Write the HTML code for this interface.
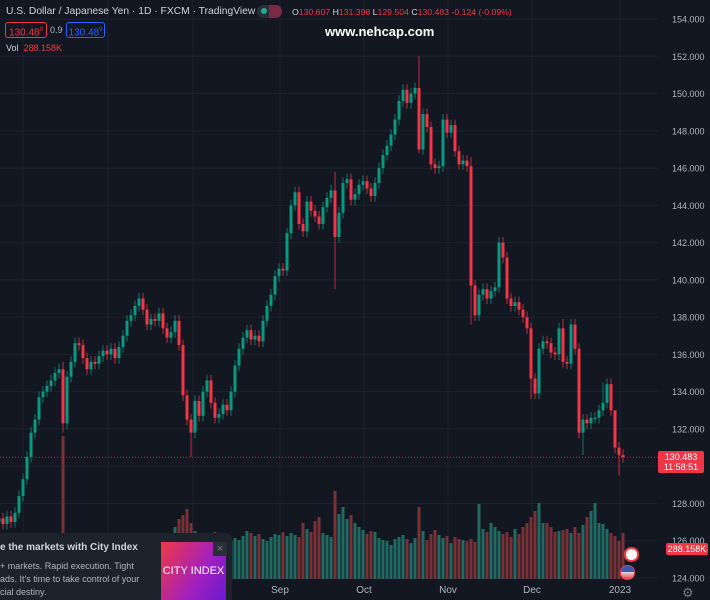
<!DOCTYPE html>
<html><head><meta charset="utf-8">
<style>
html,body{margin:0;padding:0;background:#131722;}
#wrap{position:relative;width:710px;height:600px;overflow:hidden;background:#131722;font-family:"Liberation Sans",sans-serif;}
svg{position:absolute;left:0;top:0;}
.t{position:absolute;white-space:nowrap;}
</style></head><body>
<div id="wrap">
<svg id="chart" width="710" height="600"></svg>

<div class="t" style="left:6px;top:6px;font-size:10.3px;color:#d1d4dc;">U.S. Dollar / Japanese Yen · 1D · FXCM · TradingView</div>
<div class="t" style="left:257px;top:5px;width:25px;height:13px;border-radius:7px;background:#2a2e39;"></div>
<div class="t" style="left:261px;top:8px;width:6px;height:6px;border-radius:3px;background:#22ab94;"></div>
<div class="t" style="left:269px;top:5px;width:13px;height:13px;border-radius:0 7px 7px 0;background:#7a2a45;"></div>
<div class="t" style="left:292px;top:7px;font-size:8.7px;color:#d1d4dc;">O<span style="color:#f23645">130.607</span> H<span style="color:#f23645">131.398</span> L<span style="color:#f23645">129.504</span> C<span style="color:#f23645">130.483 -0.124 (-0.09%)</span></div>
<div class="t" style="left:5px;top:22px;width:40px;height:14px;border:1px solid #f23645;border-radius:3px;color:#f23645;font-size:10px;line-height:14px;text-align:center;">130.48<sup style="font-size:6px">0</sup></div>
<div class="t" style="left:50px;top:25px;font-size:9px;color:#b2b5be;">0.9</div>
<div class="t" style="left:66px;top:22px;width:37px;height:14px;border:1px solid #2962ff;border-radius:3px;color:#2962ff;font-size:10px;line-height:14px;text-align:center;">130.48<sup style="font-size:6px">9</sup></div>
<div class="t" style="left:6px;top:43px;font-size:9px;color:#d1d4dc;">Vol&nbsp;&nbsp;<span style="color:#f23645">288.158K</span></div>
<div class="t" style="left:325px;top:24px;font-size:13px;color:#fff;font-weight:bold;">www.nehcap.com</div>

<div class="t" style="left:658px;top:451px;width:46px;height:21px;background:#f23645;color:#fff;font-size:9px;line-height:10px;text-align:center;border-radius:2px;padding-top:1px;">130.483<br>11:58:51</div>
<div class="t" style="left:666px;top:543px;width:42px;height:12px;background:#f23645;color:#fff;font-size:9px;line-height:12px;text-align:center;border-radius:2px;">288.158K</div>

<div class="t" style="left:624px;top:547px;width:11px;height:11px;border-radius:7px;border:2px solid #f23645;background:#fff;"></div>
<div class="t" style="left:620px;top:565px;width:13px;height:13px;border-radius:7px;border:1px solid #f23645;background:linear-gradient(#3a5ab0 45%,#e0e0e0 45%,#f23645);"></div>
<div class="t" style="left:682px;top:585px;font-size:13px;color:#787b86;">⚙</div>

<div class="t" style="left:0;top:533px;width:232px;height:67px;background:#1e222d;border-radius:0 6px 0 0;">
 <div class="t" style="left:0;top:9px;font-size:10px;font-weight:bold;color:#d1d4dc;">e the markets with City Index</div>
 <div class="t" style="left:0;top:27px;font-size:9px;line-height:13px;color:#b2b5be;">+ markets. Rapid execution. Tight<br>ads. It's time to take control of your<br>cial destiny.</div>
 <div class="t" style="left:161px;top:9px;width:65px;height:58px;background:linear-gradient(120deg,#f23645,#a020c0 60%,#6a1ad0);color:#fff;font-size:11px;line-height:58px;text-align:center;">CITY INDEX</div>
 <div class="t" style="left:213px;top:9px;width:14px;height:14px;background:#2a2e39;color:#787b86;font-size:11px;line-height:14px;text-align:center;">×</div>
</div>
</div>
<script>
const closes=[127.2,126.9,127.3,127.0,127.5,128.4,129.3,130.5,131.8,132.5,133.7,134.0,134.3,134.6,135.0,135.2,132.3,134.8,135.6,136.6,136.5,135.8,135.2,135.6,135.5,135.9,136.2,136.0,136.3,135.8,136.4,137.0,137.8,138.1,138.6,139.0,138.4,137.6,137.9,137.8,138.2,137.4,136.9,137.2,137.8,136.5,133.8,132.5,131.8,133.5,132.7,134.0,134.6,133.4,132.6,132.8,133.3,133.0,134.0,135.4,136.3,136.9,137.3,136.8,137.0,136.7,137.8,138.6,139.2,140.2,140.6,140.5,142.5,144.0,144.7,143.0,142.6,144.2,143.7,143.4,143.0,143.9,144.4,144.8,142.3,143.6,145.2,145.4,144.3,144.6,145.1,145.3,144.9,144.5,145.2,146.0,146.7,147.2,147.8,148.6,149.6,150.2,149.5,150.0,150.3,147.0,148.9,148.2,146.2,146.0,146.1,148.6,147.9,148.3,146.9,146.2,146.4,146.1,139.7,138.1,139.2,139.5,139.0,139.4,139.6,142.0,141.2,139.0,138.6,138.8,138.4,138.0,137.4,134.7,133.9,136.3,136.7,136.6,136.1,136.0,137.4,135.6,135.5,137.6,136.3,131.8,132.5,132.3,132.6,132.6,133.0,133.4,134.4,133.0,131.0,130.6,130.48];
const volumes=[300,280,320,260,300,340,310,290,330,300,350,320,360,300,380,420,1430,460,380,360,340,300,330,310,290,320,300,340,310,330,350,380,400,360,340,330,320,300,350,330,360,380,420,460,520,600,640,700,560,480,450,420,460,440,470,430,400,420,380,410,390,430,480,460,430,450,400,380,420,450,440,470,430,460,440,420,560,500,470,580,620,460,440,420,880,650,720,600,640,560,520,490,450,480,470,410,390,380,340,400,420,440,400,360,410,720,480,390,450,490,440,410,430,360,420,400,390,380,400,370,750,500,470,560,520,480,450,470,420,500,450,520,560,620,680,760,560,560,520,470,480,490,500,460,520,460,540,620,680,760,560,550,500,460,430,380,460,540,760,500,288];
const wickHi={16:135.6,48:132.8,84:145.8,105:152.0,118:146.6,126:142.3,141:137.9,151:134.5,154:131.4};
const wickLo={16:131.8,48:130.5,84:139.5,105:146.8,118:137.6,133:133.6,146:130.6,155:129.5};
const yTicks=[154,152,150,148,146,144,142,140,138,136,134,132,128,126,124];
const xLabels=["Sep","Oct","Nov","Dec","2023"];
const xLabelBars=[69,90,111,132,154];

const svg=document.getElementById('chart');
const NS='http://www.w3.org/2000/svg';
const yP=p=>19+(154-p)*18.633;
const xB=i=>623-(closes.length-1-i)*4;
const vBase=579, vScale=0.1;
function mk(tag,attrs){const e=document.createElementNS(NS,tag);for(const k in attrs)e.setAttribute(k,attrs[k]);svg.appendChild(e);return e;}
yTicks.concat([130]).forEach(p=>{const l=mk('line',{x1:0,x2:658,y1:yP(p),y2:yP(p),stroke:'#1e222d','stroke-width':1});

});
[23,108,193].concat(xLabelBars.map(b=>xB(b)+5)).forEach(x=>{const l=mk('line',{x1:x,x2:x,y1:0,y2:580,stroke:'#1e222d','stroke-width':1});

});
closes.forEach((c,i)=>{const o=i?closes[i-1]:c;const up=c>=o;const h=volumes[i]*vScale;
const r=mk('rect',{x:xB(i)-1.5,y:vBase-h,width:3,height:h,fill:up?'#1f6b63':'#7a3034'});

});
closes.forEach((c,i)=>{const o=i?closes[i-1]:127.0;const up=c>=o;const col=up?'#089981':'#f23645';
const hi=wickHi[i]!==undefined?wickHi[i]:Math.max(o,c)+0.3;const lo=wickLo[i]!==undefined?wickLo[i]:Math.min(o,c)-0.3;
const w=mk('line',{x1:xB(i),x2:xB(i),y1:yP(hi),y2:yP(lo),stroke:col,'stroke-width':1,opacity:0.75});


const top=yP(Math.max(o,c)),bh=Math.max(1.5,Math.abs(yP(o)-yP(c)));
const b=mk('rect',{x:xB(i)-1.5,y:top,width:3,height:bh,fill:col});

});
const lp=mk('line',{x1:0,x2:658,y1:yP(130.483),y2:yP(130.483),stroke:'#f23645','stroke-width':1,'stroke-dasharray':'1 2',opacity:0.7});


yTicks.forEach(p=>{const t=mk('text',{x:672,y:yP(p)+3.5,fill:'#b2b5be','font-size':9,'font-family':'Liberation Sans, sans-serif'});t.textContent=p.toFixed(3);

});
xLabels.forEach((s,k)=>{const t=mk('text',{x:xB(xLabelBars[k])+5,y:593,fill:'#b2b5be','font-size':10,'text-anchor':'middle','font-family':'Liberation Sans, sans-serif'});t.textContent=s;

});
</script>
</body></html>
